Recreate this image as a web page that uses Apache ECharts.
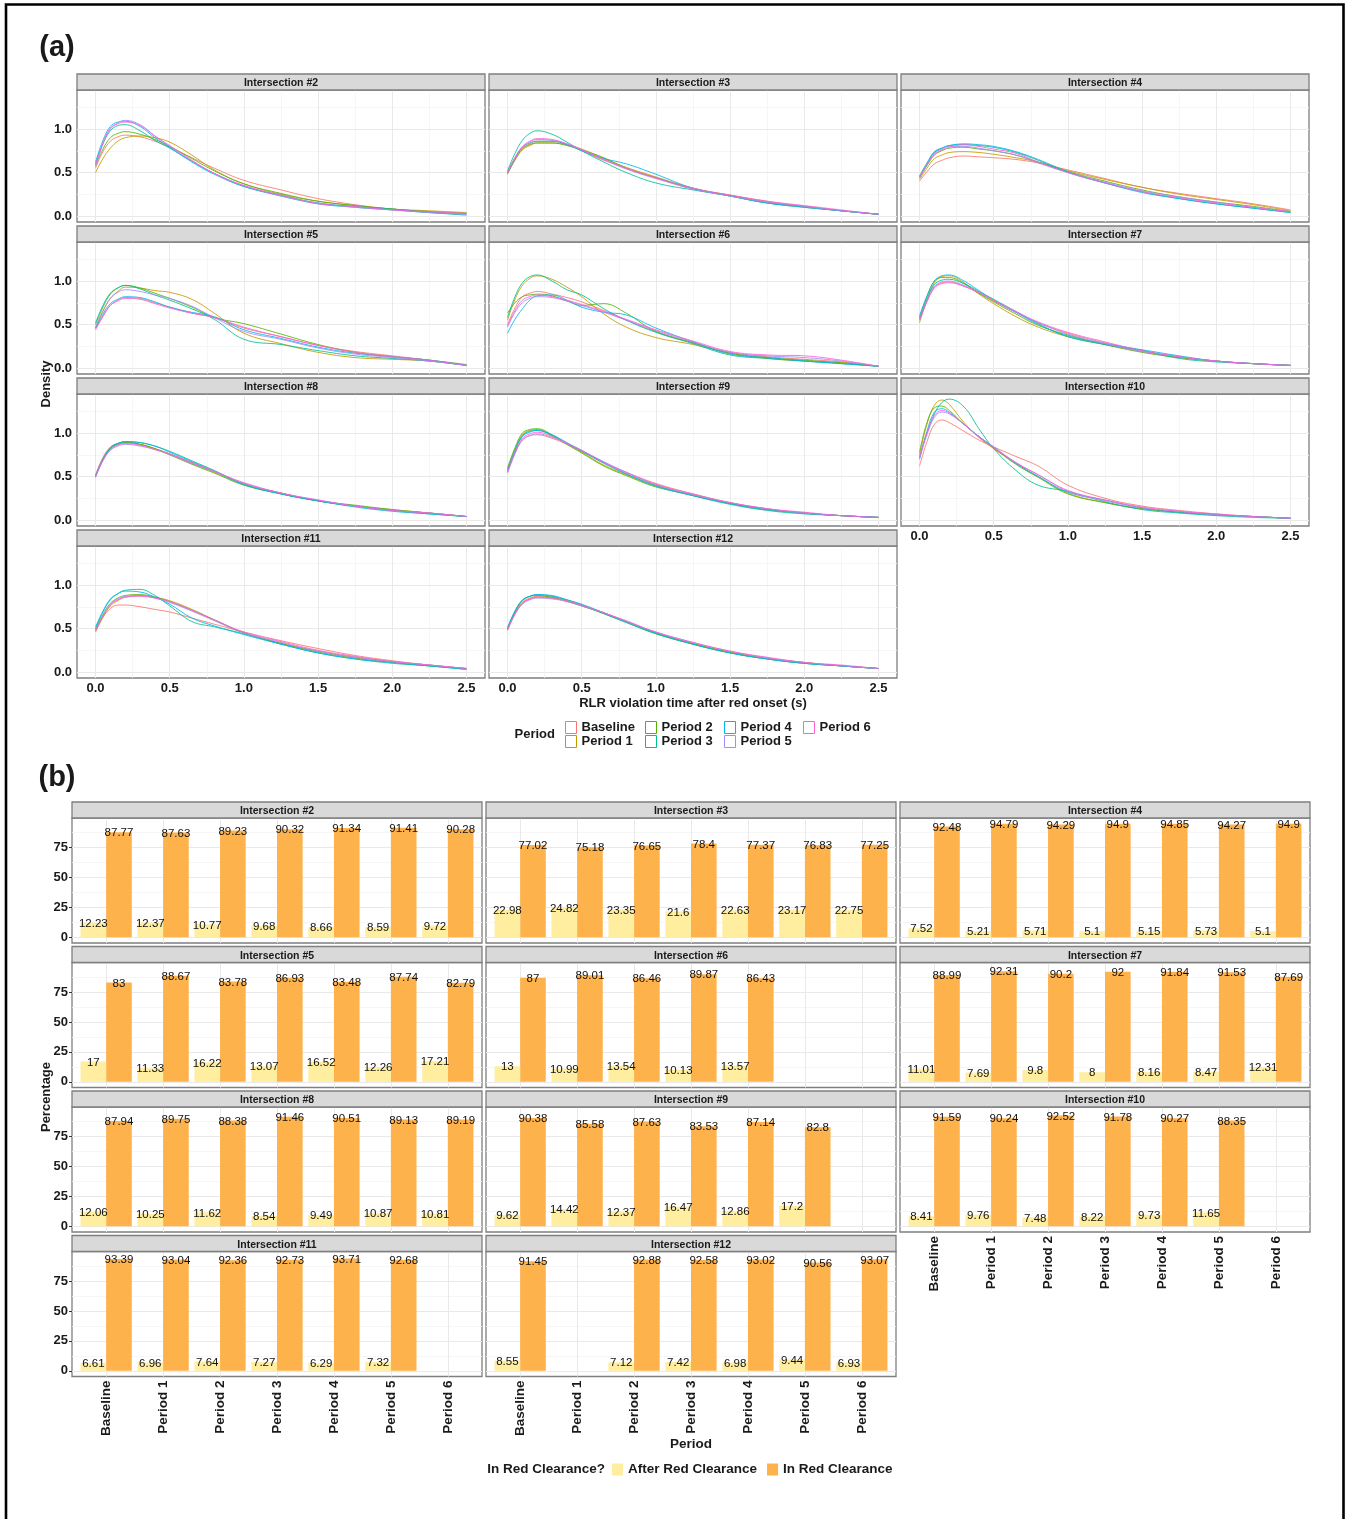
<!DOCTYPE html>
<html>
<head>
<meta charset="utf-8">
<title>RLR violation timing by intersection and period</title>
<script src="https://cdn.jsdelivr.net/npm/echarts@6/dist/echarts.min.js"></script>
<style>
  html, body { margin: 0; padding: 0; background: #ffffff; }
  #chart { width: 1349px; height: 1519px; }
</style>
</head>
<body>
<div id="chart"></div>
<script>
// ---------- categories ----------
const PERIODS = ['Baseline', 'Period 1', 'Period 2', 'Period 3', 'Period 4', 'Period 5', 'Period 6'];
const PERIOD_COLORS = ['#F8766D', '#C49A00', '#53B400', '#00C094', '#00B6EB', '#A58AFF', '#FB61D7'];
const INTERSECTIONS = ['Intersection #2', 'Intersection #3', 'Intersection #4', 'Intersection #5',
  'Intersection #6', 'Intersection #7', 'Intersection #8', 'Intersection #9', 'Intersection #10',
  'Intersection #11', 'Intersection #12'];

// ---------- (a) density of violation time, sampled at these times (s) ----------
const DENS_X = [0, 0.05, 0.1, 0.15, 0.2, 0.3, 0.4, 0.5, 0.65, 0.8, 1.0, 1.25, 1.5, 1.75, 2.0, 2.25, 2.5];
const DENS_X_TICKS = [0, 0.5, 1, 1.5, 2, 2.5];
const DENS_X_MINOR = [0.25, 0.75, 1.25, 1.75, 2.25];
const DENS_Y_TICKS = [0, 0.5, 1];
const DENS_Y_MINOR = [0.25, 0.75, 1.25];

// one row per period: Baseline, Period 1 ... Period 6
const densityI2 = [
  [0.55, 0.74, 0.86, 0.91, 0.93, 0.91, 0.86, 0.79, 0.67, 0.55, 0.41, 0.30, 0.20, 0.13, 0.08, 0.05, 0.03],
  [0.50, 0.66, 0.78, 0.86, 0.90, 0.92, 0.90, 0.85, 0.70, 0.53, 0.37, 0.25, 0.17, 0.12, 0.08, 0.06, 0.04],
  [0.58, 0.77, 0.90, 0.95, 0.97, 0.94, 0.88, 0.80, 0.66, 0.52, 0.37, 0.26, 0.17, 0.12, 0.08, 0.05, 0.03],
  [0.60, 0.83, 0.98, 1.04, 1.05, 0.98, 0.87, 0.78, 0.63, 0.49, 0.34, 0.24, 0.15, 0.11, 0.08, 0.04, 0.01],
  [0.62, 0.87, 1.03, 1.08, 1.09, 1.03, 0.90, 0.79, 0.62, 0.48, 0.34, 0.23, 0.14, 0.10, 0.07, 0.04, 0.02],
  [0.57, 0.83, 1.00, 1.07, 1.10, 1.05, 0.92, 0.80, 0.63, 0.49, 0.35, 0.23, 0.15, 0.10, 0.07, 0.04, 0.02],
  [0.59, 0.84, 1.01, 1.06, 1.08, 1.04, 0.92, 0.81, 0.64, 0.49, 0.35, 0.24, 0.14, 0.11, 0.07, 0.05, 0.03]
];
const densityI3 = [
  [0.50, 0.66, 0.78, 0.83, 0.86, 0.86, 0.82, 0.75, 0.64, 0.55, 0.44, 0.31, 0.24, 0.17, 0.11, 0.06, 0.02],
  [0.48, 0.64, 0.76, 0.81, 0.84, 0.84, 0.82, 0.77, 0.66, 0.56, 0.45, 0.32, 0.24, 0.16, 0.11, 0.06, 0.02],
  [0.49, 0.65, 0.77, 0.82, 0.84, 0.84, 0.81, 0.76, 0.67, 0.55, 0.44, 0.32, 0.23, 0.15, 0.10, 0.06, 0.02],
  [0.52, 0.72, 0.87, 0.95, 0.98, 0.94, 0.85, 0.75, 0.62, 0.50, 0.38, 0.30, 0.23, 0.15, 0.11, 0.06, 0.02],
  [0.50, 0.67, 0.79, 0.84, 0.86, 0.86, 0.82, 0.75, 0.66, 0.60, 0.48, 0.32, 0.23, 0.15, 0.10, 0.06, 0.02],
  [0.49, 0.66, 0.79, 0.85, 0.88, 0.87, 0.83, 0.76, 0.65, 0.54, 0.43, 0.31, 0.23, 0.16, 0.11, 0.06, 0.02],
  [0.50, 0.67, 0.80, 0.86, 0.89, 0.88, 0.83, 0.76, 0.65, 0.55, 0.44, 0.32, 0.24, 0.17, 0.12, 0.07, 0.02]
];
const densityI4 = [
  [0.40, 0.51, 0.60, 0.64, 0.67, 0.69, 0.68, 0.67, 0.65, 0.61, 0.53, 0.43, 0.33, 0.26, 0.20, 0.14, 0.07],
  [0.42, 0.55, 0.66, 0.70, 0.73, 0.74, 0.73, 0.71, 0.67, 0.62, 0.52, 0.42, 0.33, 0.25, 0.19, 0.13, 0.06],
  [0.44, 0.58, 0.70, 0.75, 0.78, 0.79, 0.77, 0.75, 0.70, 0.62, 0.51, 0.40, 0.30, 0.22, 0.16, 0.11, 0.05],
  [0.46, 0.61, 0.74, 0.78, 0.81, 0.82, 0.81, 0.79, 0.73, 0.64, 0.50, 0.38, 0.28, 0.20, 0.14, 0.09, 0.04],
  [0.45, 0.60, 0.73, 0.78, 0.81, 0.83, 0.82, 0.80, 0.74, 0.65, 0.51, 0.38, 0.27, 0.20, 0.14, 0.09, 0.04],
  [0.44, 0.59, 0.72, 0.77, 0.80, 0.80, 0.78, 0.75, 0.70, 0.61, 0.50, 0.39, 0.29, 0.22, 0.16, 0.10, 0.05],
  [0.45, 0.59, 0.71, 0.76, 0.79, 0.82, 0.80, 0.77, 0.72, 0.62, 0.50, 0.38, 0.28, 0.21, 0.15, 0.10, 0.05]
];
const densityI5 = [
  [0.45, 0.60, 0.72, 0.78, 0.81, 0.80, 0.75, 0.70, 0.63, 0.58, 0.46, 0.36, 0.26, 0.19, 0.14, 0.09, 0.03],
  [0.46, 0.65, 0.80, 0.88, 0.93, 0.92, 0.89, 0.87, 0.79, 0.63, 0.40, 0.28, 0.18, 0.12, 0.10, 0.08, 0.03],
  [0.50, 0.70, 0.85, 0.92, 0.95, 0.92, 0.86, 0.80, 0.70, 0.58, 0.51, 0.39, 0.27, 0.18, 0.13, 0.09, 0.04],
  [0.52, 0.72, 0.86, 0.92, 0.95, 0.91, 0.84, 0.78, 0.68, 0.56, 0.33, 0.27, 0.20, 0.14, 0.11, 0.08, 0.03],
  [0.46, 0.62, 0.74, 0.79, 0.82, 0.81, 0.76, 0.70, 0.64, 0.59, 0.44, 0.34, 0.24, 0.17, 0.13, 0.09, 0.03],
  [0.47, 0.66, 0.80, 0.87, 0.90, 0.88, 0.84, 0.80, 0.71, 0.58, 0.42, 0.33, 0.23, 0.16, 0.12, 0.08, 0.03],
  [0.44, 0.59, 0.72, 0.77, 0.80, 0.79, 0.74, 0.69, 0.63, 0.58, 0.47, 0.36, 0.26, 0.18, 0.13, 0.09, 0.03]
];
const densityI6 = [
  [0.50, 0.69, 0.82, 0.86, 0.88, 0.85, 0.81, 0.76, 0.66, 0.55, 0.42, 0.29, 0.18, 0.13, 0.10, 0.07, 0.02],
  [0.55, 0.79, 0.95, 1.03, 1.06, 1.02, 0.93, 0.82, 0.62, 0.47, 0.35, 0.27, 0.17, 0.11, 0.08, 0.06, 0.02],
  [0.63, 0.75, 0.82, 0.84, 0.85, 0.83, 0.77, 0.72, 0.74, 0.63, 0.42, 0.29, 0.17, 0.12, 0.09, 0.06, 0.02],
  [0.58, 0.82, 0.98, 1.05, 1.07, 1.00, 0.90, 0.84, 0.68, 0.55, 0.41, 0.28, 0.15, 0.11, 0.08, 0.05, 0.02],
  [0.40, 0.56, 0.68, 0.78, 0.83, 0.84, 0.78, 0.70, 0.64, 0.61, 0.46, 0.30, 0.16, 0.12, 0.08, 0.05, 0.02],
  [0.47, 0.64, 0.75, 0.80, 0.82, 0.81, 0.77, 0.72, 0.64, 0.55, 0.43, 0.30, 0.18, 0.14, 0.12, 0.08, 0.02],
  [0.48, 0.66, 0.78, 0.82, 0.84, 0.82, 0.78, 0.73, 0.65, 0.56, 0.44, 0.31, 0.19, 0.15, 0.14, 0.09, 0.02]
];
const densityI7 = [
  [0.55, 0.77, 0.93, 0.98, 0.99, 0.94, 0.86, 0.77, 0.64, 0.52, 0.40, 0.29, 0.20, 0.13, 0.08, 0.05, 0.03],
  [0.52, 0.78, 0.98, 1.05, 1.06, 0.98, 0.85, 0.74, 0.59, 0.47, 0.36, 0.27, 0.19, 0.12, 0.08, 0.05, 0.03],
  [0.58, 0.82, 1.00, 1.04, 1.04, 0.97, 0.86, 0.76, 0.62, 0.49, 0.38, 0.27, 0.18, 0.12, 0.08, 0.05, 0.03],
  [0.57, 0.79, 0.96, 1.01, 1.02, 0.97, 0.88, 0.79, 0.65, 0.51, 0.36, 0.27, 0.20, 0.11, 0.07, 0.05, 0.03],
  [0.60, 0.83, 1.00, 1.06, 1.07, 1.00, 0.89, 0.78, 0.64, 0.50, 0.37, 0.28, 0.21, 0.14, 0.08, 0.05, 0.03],
  [0.56, 0.78, 0.94, 0.99, 1.00, 0.95, 0.87, 0.78, 0.64, 0.52, 0.39, 0.28, 0.19, 0.13, 0.08, 0.05, 0.03],
  [0.55, 0.76, 0.92, 0.97, 0.98, 0.94, 0.87, 0.78, 0.65, 0.53, 0.41, 0.30, 0.20, 0.13, 0.08, 0.05, 0.03]
];
const densityI8 = [
  [0.52, 0.72, 0.84, 0.88, 0.90, 0.87, 0.82, 0.76, 0.66, 0.56, 0.42, 0.31, 0.22, 0.16, 0.11, 0.08, 0.04],
  [0.50, 0.69, 0.82, 0.87, 0.89, 0.87, 0.82, 0.76, 0.65, 0.55, 0.41, 0.31, 0.22, 0.16, 0.12, 0.08, 0.04],
  [0.51, 0.70, 0.82, 0.87, 0.89, 0.87, 0.82, 0.75, 0.64, 0.54, 0.40, 0.30, 0.22, 0.17, 0.12, 0.08, 0.04],
  [0.50, 0.70, 0.83, 0.88, 0.90, 0.89, 0.85, 0.79, 0.68, 0.57, 0.41, 0.30, 0.22, 0.16, 0.11, 0.07, 0.04],
  [0.50, 0.70, 0.83, 0.88, 0.90, 0.89, 0.85, 0.78, 0.67, 0.56, 0.41, 0.30, 0.22, 0.15, 0.10, 0.07, 0.04],
  [0.49, 0.68, 0.80, 0.85, 0.87, 0.85, 0.81, 0.75, 0.65, 0.56, 0.42, 0.31, 0.23, 0.16, 0.11, 0.08, 0.04],
  [0.50, 0.69, 0.81, 0.86, 0.88, 0.86, 0.81, 0.76, 0.66, 0.56, 0.43, 0.31, 0.23, 0.16, 0.11, 0.08, 0.04]
];
const densityI9 = [
  [0.55, 0.77, 0.92, 0.97, 0.98, 0.94, 0.87, 0.79, 0.66, 0.55, 0.42, 0.30, 0.20, 0.13, 0.08, 0.05, 0.03],
  [0.58, 0.81, 0.98, 1.03, 1.04, 0.97, 0.88, 0.78, 0.63, 0.52, 0.39, 0.28, 0.19, 0.12, 0.08, 0.05, 0.03],
  [0.60, 0.83, 1.00, 1.04, 1.05, 0.98, 0.87, 0.77, 0.62, 0.51, 0.38, 0.29, 0.19, 0.12, 0.08, 0.05, 0.03],
  [0.57, 0.80, 0.97, 1.02, 1.03, 0.97, 0.88, 0.79, 0.65, 0.53, 0.40, 0.28, 0.18, 0.11, 0.07, 0.05, 0.03],
  [0.56, 0.79, 0.96, 1.01, 1.03, 0.98, 0.89, 0.80, 0.66, 0.53, 0.39, 0.28, 0.19, 0.12, 0.08, 0.05, 0.03],
  [0.54, 0.76, 0.92, 0.97, 0.99, 0.95, 0.88, 0.80, 0.67, 0.55, 0.41, 0.29, 0.20, 0.13, 0.08, 0.05, 0.03],
  [0.55, 0.78, 0.94, 0.99, 1.01, 0.96, 0.88, 0.80, 0.66, 0.54, 0.41, 0.30, 0.20, 0.13, 0.09, 0.05, 0.03]
];
const densityI10 = [
  [0.62, 0.90, 1.10, 1.15, 1.12, 1.02, 0.92, 0.84, 0.73, 0.62, 0.40, 0.25, 0.16, 0.11, 0.07, 0.04, 0.02],
  [0.75, 1.10, 1.32, 1.38, 1.33, 1.12, 0.95, 0.82, 0.65, 0.50, 0.31, 0.20, 0.13, 0.09, 0.06, 0.04, 0.02],
  [0.78, 1.12, 1.29, 1.31, 1.26, 1.10, 0.96, 0.83, 0.64, 0.49, 0.30, 0.20, 0.13, 0.09, 0.06, 0.04, 0.02],
  [0.72, 1.00, 1.22, 1.35, 1.39, 1.30, 1.05, 0.82, 0.57, 0.40, 0.33, 0.21, 0.12, 0.08, 0.05, 0.03, 0.02],
  [0.70, 1.02, 1.24, 1.28, 1.24, 1.10, 0.96, 0.84, 0.65, 0.50, 0.32, 0.23, 0.14, 0.09, 0.06, 0.04, 0.02],
  [0.70, 0.98, 1.18, 1.24, 1.22, 1.10, 0.96, 0.84, 0.66, 0.52, 0.33, 0.22, 0.14, 0.10, 0.06, 0.04, 0.02],
  [0.72, 1.00, 1.20, 1.26, 1.23, 1.10, 0.95, 0.83, 0.66, 0.52, 0.34, 0.23, 0.15, 0.10, 0.07, 0.04, 0.02]
];
const densityI11 = [
  [0.47, 0.63, 0.73, 0.77, 0.77, 0.75, 0.72, 0.69, 0.62, 0.55, 0.46, 0.36, 0.27, 0.19, 0.13, 0.08, 0.04],
  [0.46, 0.63, 0.76, 0.82, 0.86, 0.88, 0.86, 0.82, 0.72, 0.60, 0.45, 0.33, 0.24, 0.17, 0.12, 0.08, 0.04],
  [0.49, 0.66, 0.79, 0.85, 0.88, 0.89, 0.86, 0.81, 0.71, 0.60, 0.45, 0.33, 0.23, 0.16, 0.11, 0.07, 0.04],
  [0.50, 0.69, 0.83, 0.90, 0.94, 0.95, 0.88, 0.76, 0.58, 0.52, 0.44, 0.32, 0.22, 0.15, 0.10, 0.07, 0.03],
  [0.52, 0.70, 0.84, 0.90, 0.93, 0.92, 0.86, 0.78, 0.62, 0.53, 0.43, 0.32, 0.22, 0.15, 0.11, 0.07, 0.03],
  [0.48, 0.65, 0.78, 0.84, 0.87, 0.88, 0.85, 0.80, 0.70, 0.59, 0.45, 0.34, 0.24, 0.17, 0.12, 0.08, 0.04],
  [0.47, 0.64, 0.77, 0.83, 0.86, 0.87, 0.85, 0.81, 0.71, 0.60, 0.46, 0.35, 0.25, 0.18, 0.12, 0.08, 0.04]
];
const densityI12 = [
  [0.49, 0.68, 0.80, 0.85, 0.87, 0.86, 0.82, 0.77, 0.68, 0.58, 0.45, 0.33, 0.23, 0.16, 0.11, 0.07, 0.04],
  [0.48, 0.67, 0.79, 0.84, 0.86, 0.85, 0.81, 0.76, 0.68, 0.58, 0.45, 0.33, 0.23, 0.16, 0.11, 0.07, 0.04],
  [0.50, 0.69, 0.82, 0.87, 0.88, 0.86, 0.82, 0.76, 0.67, 0.57, 0.44, 0.32, 0.22, 0.15, 0.10, 0.07, 0.04],
  [0.51, 0.70, 0.83, 0.87, 0.89, 0.87, 0.83, 0.77, 0.67, 0.57, 0.44, 0.32, 0.22, 0.15, 0.10, 0.07, 0.04],
  [0.50, 0.70, 0.82, 0.87, 0.89, 0.88, 0.83, 0.78, 0.68, 0.58, 0.45, 0.32, 0.22, 0.15, 0.10, 0.07, 0.04],
  [0.48, 0.66, 0.78, 0.83, 0.85, 0.84, 0.81, 0.76, 0.68, 0.58, 0.46, 0.34, 0.24, 0.16, 0.11, 0.07, 0.04],
  [0.49, 0.67, 0.79, 0.84, 0.86, 0.85, 0.82, 0.77, 0.68, 0.59, 0.46, 0.34, 0.24, 0.17, 0.11, 0.08, 0.04]
];
const DENSITY_PANELS = [densityI2, densityI3, densityI4, densityI5, densityI6, densityI7,
  densityI8, densityI9, densityI10, densityI11, densityI12];

// ---------- (b) share of violations (%) by period; null = no data ----------
const AFTER_RED = [
  [12.23, 12.37, 10.77, 9.68, 8.66, 8.59, 9.72],
  [22.98, 24.82, 23.35, 21.6, 22.63, 23.17, 22.75],
  [7.52, 5.21, 5.71, 5.1, 5.15, 5.73, 5.1],
  [17, 11.33, 16.22, 13.07, 16.52, 12.26, 17.21],
  [13, 10.99, 13.54, 10.13, 13.57, null, null],
  [11.01, 7.69, 9.8, 8, 8.16, 8.47, 12.31],
  [12.06, 10.25, 11.62, 8.54, 9.49, 10.87, 10.81],
  [9.62, 14.42, 12.37, 16.47, 12.86, 17.2, null],
  [8.41, 9.76, 7.48, 8.22, 9.73, 11.65, null],
  [6.61, 6.96, 7.64, 7.27, 6.29, 7.32, null],
  [8.55, null, 7.12, 7.42, 6.98, 9.44, 6.93]
];
const IN_RED = [
  [87.77, 87.63, 89.23, 90.32, 91.34, 91.41, 90.28],
  [77.02, 75.18, 76.65, 78.4, 77.37, 76.83, 77.25],
  [92.48, 94.79, 94.29, 94.9, 94.85, 94.27, 94.9],
  [83, 88.67, 83.78, 86.93, 83.48, 87.74, 82.79],
  [87, 89.01, 86.46, 89.87, 86.43, null, null],
  [88.99, 92.31, 90.2, 92, 91.84, 91.53, 87.69],
  [87.94, 89.75, 88.38, 91.46, 90.51, 89.13, 89.19],
  [90.38, 85.58, 87.63, 83.53, 87.14, 82.8, null],
  [91.59, 90.24, 92.52, 91.78, 90.27, 88.35, null],
  [93.39, 93.04, 92.36, 92.73, 93.71, 92.68, null],
  [91.45, null, 92.88, 92.58, 93.02, 90.56, 93.07]
];
const PCT_TICKS = [0, 25, 50, 75];
const PCT_MINOR = [12.5, 37.5, 62.5, 87.5];
const CLEARANCE_NAMES = ['After Red Clearance', 'In Red Clearance'];
const CLEARANCE_COLORS = ['#FFEDA0', '#FEB24C'];

// ---------- layout ----------
const FONT = '"Liberation Sans", Arial, Helvetica, sans-serif';
const STRIP_H = 16;
const A_COLS = [77, 489, 901], A_W = 408, A_ROWS = [74, 226, 378, 530], A_PLOT_H = 132;
const B_COLS = [72, 486, 900], B_W = 410, B_ROWS = [802, 946.5, 1091, 1235.5], B_PLOT_H = 125;
const A_X_RANGE = [-0.125, 2.625], A_Y_RANGE = [-0.069, 1.449];
const B_X_RANGE = [0.4, 7.6], B_Y_RANGE = [-4.745, 99.645];

const AXIS_TEXT = { fontFamily: FONT, fontSize: 13, fontWeight: 'bold', color: '#1a1a1a' };
const MAJOR_LINE = { color: '#e9e9e9', width: 1, type: 'solid' };
const MINOR_LINE = { color: '#f4f4f4', width: 0.8, type: 'solid' };
const PANEL_BORDER = '#7f7f7f';

const grids = [], xAxes = [], yAxes = [], series = [], graphics = [];

function addStrip(x, y, w, label) {
  graphics.push({
    type: 'rect', silent: true, z: 10,
    shape: { x: x, y: y, width: w, height: STRIP_H },
    style: { fill: '#d9d9d9', stroke: PANEL_BORDER, lineWidth: 1.3 }
  });
  graphics.push({
    type: 'text', silent: true, z: 11, x: x + w / 2, y: y + STRIP_H / 2 + 1.5,
    style: { text: label, font: 'bold 10.5px ' + FONT, fill: '#1a1a1a',
      align: 'center', verticalAlign: 'middle', textAlign: 'center', textVerticalAlign: 'middle' }
  });
}

function addText(text, x, y, opts) {
  const o = opts || {};
  graphics.push({
    type: 'text', silent: true, z: 11, x: x, y: y, rotation: o.rotation || 0,
    style: { text: text, font: (o.weight || 'bold') + ' ' + (o.size || 13) + 'px ' + FONT, fill: o.color || '#1a1a1a',
      align: o.align || 'center', verticalAlign: 'middle',
      textAlign: o.align || 'center', textVerticalAlign: 'middle' }
  });
}

// background grid lines drawn through the panel's own axes
function gridLineSeries(g, xMajor, xMinor, yMajor, yMinor) {
  const data = [];
  xMinor.forEach(v => data.push({ xAxis: v, lineStyle: MINOR_LINE }));
  yMinor.forEach(v => data.push({ yAxis: v, lineStyle: MINOR_LINE }));
  xMajor.forEach(v => data.push({ xAxis: v, lineStyle: MAJOR_LINE }));
  yMajor.forEach(v => data.push({ yAxis: v, lineStyle: MAJOR_LINE }));
  return {
    type: 'line', name: '', xAxisIndex: g, yAxisIndex: g, data: [], silent: true, z: 1,
    markLine: {
      silent: true, z: 1, symbol: ['none', 'none'], label: { show: false },
      animation: false, emphasis: { disabled: true },
      lineStyle: { type: 'solid' }, data: data
    }
  };
}

function makeAxis(g, range, ticks, showLabels, labelOpts) {
  return {
    gridIndex: g, type: 'value', min: range[0], max: range[1],
    axisLine: { show: false },
    splitLine: { show: false },
    axisTick: { show: showLabels, customValues: ticks, length: 3, lineStyle: { color: '#333', width: 1 } },
    axisLabel: Object.assign({ show: showLabels, customValues: ticks }, AXIS_TEXT, labelOpts || {})
  };
}

// ---------- (a) density panels ----------
INTERSECTIONS.forEach((name, i) => {
  const row = Math.floor(i / 3), col = i % 3;
  const showX = row === 3 || (row === 2 && col === 2);
  const showY = col === 0;
  const g = grids.length;
  const top = A_ROWS[row] + STRIP_H;
  grids.push({
    left: A_COLS[col], top: top, width: A_W, height: A_PLOT_H,
    show: true, backgroundColor: '#ffffff', borderColor: PANEL_BORDER, borderWidth: 1.3,
    containLabel: false, outerBoundsMode: 'none'
  });
  xAxes.push(makeAxis(g, A_X_RANGE, DENS_X_TICKS, showX, { margin: 4, formatter: v => Number(v).toFixed(1) }));
  yAxes.push(makeAxis(g, A_Y_RANGE, DENS_Y_TICKS, showY, { margin: 5, formatter: v => Number(v).toFixed(1) }));
  addStrip(A_COLS[col], A_ROWS[row], A_W, name);
  series.push(gridLineSeries(g, DENS_X_TICKS, DENS_X_MINOR, DENS_Y_TICKS, DENS_Y_MINOR));
  DENSITY_PANELS[i].forEach((vals, p) => {
    series.push({
      type: 'line', name: PERIODS[p], xAxisIndex: g, yAxisIndex: g, z: 2,
      data: DENS_X.map((x, k) => [x, vals[k]]),
      smooth: 0.4, showSymbol: false, symbol: 'none', silent: true,
      lineStyle: { color: PERIOD_COLORS[p], width: 0.9, opacity: 0.95 },
      itemStyle: { color: PERIOD_COLORS[p] }
    });
  });
});

// ---------- (b) bar panels ----------
const BAR_PX = 0.45 * B_W / (B_X_RANGE[1] - B_X_RANGE[0]);
INTERSECTIONS.forEach((name, i) => {
  const row = Math.floor(i / 3), col = i % 3;
  const showX = row === 3 || (row === 2 && col === 2);
  const showY = col === 0;
  const g = grids.length;
  const top = B_ROWS[row] + STRIP_H;
  grids.push({
    left: B_COLS[col], top: top, width: B_W, height: B_PLOT_H,
    show: true, backgroundColor: '#ffffff', borderColor: PANEL_BORDER, borderWidth: 1.3,
    containLabel: false, outerBoundsMode: 'none'
  });
  const catTicks = PERIODS.map((_, k) => k + 1);
  xAxes.push(makeAxis(g, B_X_RANGE, catTicks, showX, {
    margin: 4, rotate: 90, fontSize: 13.5, formatter: v => PERIODS[Math.round(v) - 1]
  }));
  yAxes.push(makeAxis(g, B_Y_RANGE, PCT_TICKS, showY, { margin: 4 }));
  addStrip(B_COLS[col], B_ROWS[row], B_W, name);
  series.push(gridLineSeries(g, catTicks, [], PCT_TICKS, PCT_MINOR));
  [AFTER_RED[i], IN_RED[i]].forEach((vals, s) => {
    const data = [];
    vals.forEach((v, k) => { if (v != null) data.push([k + 1, v]); });
    series.push({
      type: 'bar', name: CLEARANCE_NAMES[s], xAxisIndex: g, yAxisIndex: g,
      z: s === 0 ? 3 : 2, silent: true,
      barWidth: BAR_PX, barGap: '0%',
      data: data,
      itemStyle: { color: CLEARANCE_COLORS[s] },
      label: {
        show: true, position: ['50%', 0], align: 'center', verticalAlign: 'middle',
        offset: [0, 1],
        formatter: p => String(p.value[1]),
        fontFamily: FONT, fontSize: 11.5, color: '#111111'
      }
    });
  });
});

// ---------- titles, axis titles, frame ----------
graphics.push({
  type: 'rect', silent: true, z: 20,
  shape: { x: 6, y: 4.5, width: 1337.5, height: 1600 },
  style: { fill: 'none', stroke: '#000000', lineWidth: 2.6 }
});
addText('(a)', 57, 48, { size: 29 });
addText('(b)', 57, 778, { size: 29 });
addText('Density', 46, 384, { rotation: Math.PI / 2 });
addText('RLR violation time after red onset (s)', 693, 703);
addText('Period', 555, 734, { align: 'right' });
addText('Percentage', 46, 1097, { rotation: Math.PI / 2 });
addText('Period', 691, 1444, { size: 13.5 });
addText('In Red Clearance?', 605, 1469, { align: 'right', size: 13.5 });

// ---------- legends ----------
const LEGEND_TEXT = { fontFamily: FONT, fontSize: 13, fontWeight: 'bold', color: '#1a1a1a', lineHeight: 13 };
const PERIOD_LEGEND_COLUMNS = [[0, 1], [2, 3], [4, 5], [6]];
const PERIOD_LEGEND_LEFT = [565, 645, 724, 803];
const legends = PERIOD_LEGEND_COLUMNS.map((idx, c) => ({
  orient: 'vertical', left: PERIOD_LEGEND_LEFT[c], top: 721, padding: 0, itemGap: 1,
  itemWidth: 11, itemHeight: 12, icon: 'rect', selectedMode: false,
  textStyle: LEGEND_TEXT,
  data: idx.map(p => ({
    name: PERIODS[p],
    itemStyle: { color: '#ffffff', borderColor: PERIOD_COLORS[p], borderWidth: 1 }
  }))
}));
legends.push({
  orient: 'horizontal', left: 612, top: 1462.5, padding: 0, itemGap: 10,
  itemWidth: 11, itemHeight: 12, icon: 'rect', selectedMode: false,
  textStyle: Object.assign({}, LEGEND_TEXT, { fontSize: 13.5 }),
  data: CLEARANCE_NAMES.map((n, s) => ({ name: n, itemStyle: { color: CLEARANCE_COLORS[s], borderWidth: 0 } }))
});

const chart = echarts.init(document.getElementById('chart'), null, { renderer: 'canvas', width: 1349, height: 1519 });
chart.setOption({
  backgroundColor: '#ffffff',
  animation: false,
  tooltip: { show: false },
  grid: grids,
  xAxis: xAxes,
  yAxis: yAxes,
  legend: legends,
  series: series,
  graphic: { elements: graphics }
});
</script>
</body>
</html>
